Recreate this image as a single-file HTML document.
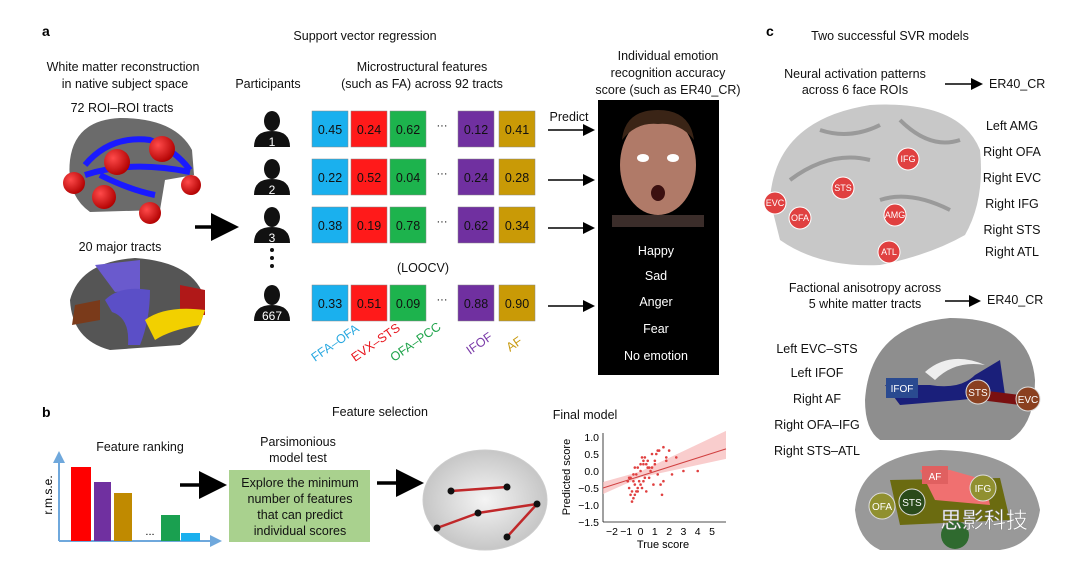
<!DOCTYPE html>
<html><head><meta charset="utf-8">
<style>
html,body{margin:0;padding:0;background:#fff;}
svg{display:block;font-family:"Liberation Sans","Noto Sans CJK SC",sans-serif;}
</style></head>
<body>
<svg id="fig" width="1080" height="570" viewBox="0 0 1080 570">
<defs>
<marker id="ah" markerWidth="8" markerHeight="8" refX="6" refY="4" orient="auto"><path d="M0,0 L8,4 L0,8 z" fill="#000"/></marker>
<marker id="ahb" markerWidth="6" markerHeight="6" refX="4" refY="3" orient="auto"><path d="M0,0 L6,3 L0,6 z" fill="#6fa8dc"/></marker>
<radialGradient id="rb" cx="0.35" cy="0.35" r="0.7"><stop offset="0" stop-color="#ff4a4a"/><stop offset="1" stop-color="#b00000"/></radialGradient>
<radialGradient id="gb" cx="0.5" cy="0.5" r="0.6"><stop offset="0" stop-color="#f4f4f4"/><stop offset="1" stop-color="#bdbdbd"/></radialGradient>
</defs>

<!-- panel labels -->
<text x="42" y="36" font-size="14" font-weight="bold">a</text>
<text x="42" y="417" font-size="14" font-weight="bold">b</text>
<text x="766" y="36" font-size="14" font-weight="bold">c</text>

<!-- panel a text -->
<g font-size="12.5" fill="#111" text-anchor="middle">
<text x="365" y="40">Support vector regression</text>
<text x="123" y="71">White matter reconstruction</text>
<text x="125" y="88">in native subject space</text>
<text x="122" y="112">72 ROI–ROI tracts</text>
<text x="120" y="251">20 major tracts</text>
<text x="268" y="88">Participants</text>
<text x="422" y="71">Microstructural features</text>
<text x="422" y="88">(such as FA) across 92 tracts</text>
<text x="668" y="60">Individual emotion</text>
<text x="668" y="77">recognition accuracy</text>
<text x="668" y="94">score (such as ER40_CR)</text>
<text x="569" y="121">Predict</text>
<text x="423" y="272">(LOOCV)</text>
</g>

<!-- brain 1 -->
<g>
<path d="M70,160 Q75,120 120,118 Q175,118 192,150 L194,175 L165,180 L160,210 L90,212 Q66,195 70,160z" fill="#6b6b6b"/>
<path d="M85,165 Q110,135 150,140 Q175,150 190,170 M85,175 Q130,160 190,172 M100,175 Q130,190 155,195" stroke="#1a1aff" stroke-width="6" fill="none"/>
<circle cx="162" cy="149" r="13" fill="url(#rb)"/><circle cx="117" cy="162" r="13" fill="url(#rb)"/>
<circle cx="74" cy="183" r="11" fill="url(#rb)"/><circle cx="104" cy="197" r="12" fill="url(#rb)"/>
<circle cx="150" cy="213" r="11" fill="url(#rb)"/><circle cx="191" cy="185" r="10" fill="url(#rb)"/>
</g>
<!-- brain 2 -->
<g>
<path d="M70,300 Q80,262 135,258 Q195,262 205,300 Q205,330 180,345 L110,350 Q72,340 70,300z" fill="#555"/>
<path d="M95,265 L140,260 L140,290 L115,292z" fill="#6a5acd"/>
<path d="M105,300 Q120,285 150,290 Q150,320 140,345 L128,345 Q130,318 112,312z" fill="#5b4fc7"/>
<path d="M75,305 L100,300 L100,320 L72,325z" fill="#7a3a1a"/>
<path d="M180,285 L205,290 L205,315 L180,315z" fill="#b01818"/>
<path d="M145,320 Q165,305 205,310 L200,325 Q170,330 155,340z" fill="#f2d000"/>
</g>

<line x1="195" y1="227" x2="232" y2="227" stroke="#000" stroke-width="3.5" marker-end="url(#ah)"/>

<g id="people"></g>
<g id="matrix"></g>

<g font-size="12.5">
<text x="315" y="362" fill="#29a8e0" transform="rotate(-35 315 362)">FFA–OFA</text>
<text x="355" y="362" fill="#e8141c" transform="rotate(-35 355 362)">EVX–STS</text>
<text x="394" y="362" fill="#1ea34a" transform="rotate(-35 394 362)">OFA–PCC</text>
<text x="470" y="355" fill="#7a3aa8" transform="rotate(-35 470 355)">IFOF</text>
<text x="510" y="352" fill="#c89a10" transform="rotate(-35 510 352)">AF</text>
</g>

<!-- predict arrows -->
<g stroke="#000" stroke-width="1.5" marker-end="url(#ah)">
<line x1="548" y1="130" x2="592" y2="130"/><line x1="548" y1="180" x2="592" y2="180"/>
<line x1="548" y1="228" x2="592" y2="228"/><line x1="548" y1="306" x2="592" y2="306"/>
</g>

<!-- face panel -->
<g>
<rect x="598" y="100" width="121" height="275" fill="#000"/>
<ellipse cx="658" cy="165" rx="38" ry="50" fill="#b07a68"/>
<path d="M622,140 Q625,110 658,110 Q690,110 694,140 Q680,122 658,124 Q636,122 622,140z" fill="#3a2416"/>
<ellipse cx="643" cy="158" rx="6" ry="4" fill="#fff"/><ellipse cx="673" cy="158" rx="6" ry="4" fill="#fff"/>
<ellipse cx="658" cy="193" rx="7" ry="8" fill="#3b1010"/>
<rect x="612" y="215" width="92" height="12" fill="#3b2d2a"/>
<g fill="#fff" font-size="12.5" text-anchor="middle">
<text x="656" y="255">Happy</text>
<text x="656" y="280">Sad</text>
<text x="656" y="306">Anger</text>
<text x="656" y="333">Fear</text>
<text x="656" y="360">No emotion</text>
</g>
</g>

<!-- panel b -->
<g font-size="12.5" fill="#111" text-anchor="middle">
<text x="380" y="416">Feature selection</text>
<text x="140" y="451">Feature ranking</text>
<text x="298" y="446">Parsimonious</text>
<text x="298" y="462">model test</text>
<text x="585" y="419">Final model</text>
</g>
<g id="rank">
<line x1="59" y1="541" x2="59" y2="455" stroke="#6fa8dc" stroke-width="2" marker-end="url(#ahb)"/>
<line x1="59" y1="541" x2="218" y2="541" stroke="#6fa8dc" stroke-width="2" marker-end="url(#ahb)"/>
<text x="52" y="495" font-size="12" text-anchor="middle" transform="rotate(-90 52 495)">r.m.s.e.</text>
<text x="150" y="535" font-size="11" text-anchor="middle">...</text>
</g>
<rect x="229" y="470" width="141" height="72" fill="#a9d18e"/>
<g font-size="12.5" text-anchor="middle" fill="#111">
<text x="300" y="487">Explore the minimum</text>
<text x="300" y="503">number of features</text>
<text x="300" y="519">that can predict</text>
<text x="300" y="535">individual scores</text>
</g>
<line x1="180" y1="485" x2="220" y2="485" stroke="#000" stroke-width="3.5" marker-end="url(#ah)"/>
<line x1="377" y1="483" x2="417" y2="483" stroke="#000" stroke-width="3.5" marker-end="url(#ah)"/>
<g>
<ellipse cx="485" cy="500" rx="62" ry="50" fill="url(#gb)" stroke="#ccc"/>
<g stroke="#c0282a" stroke-width="2.5"><line x1="451" y1="491" x2="507" y2="487"/><line x1="478" y1="513" x2="537" y2="504"/><line x1="437" y1="528" x2="478" y2="513"/><line x1="507" y1="537" x2="537" y2="504"/></g>
<g fill="#111"><circle cx="451" cy="491" r="3.5"/><circle cx="507" cy="487" r="3.5"/><circle cx="478" cy="513" r="3.5"/><circle cx="537" cy="504" r="3.5"/><circle cx="437" cy="528" r="3.5"/><circle cx="507" cy="537" r="3.5"/></g>
</g>
<g id="scatter"></g>

<!-- panel c -->
<g font-size="12.5" fill="#111">
<text x="890" y="40" text-anchor="middle">Two successful SVR models</text>
<text x="855" y="78" text-anchor="middle">Neural activation patterns</text>
<text x="855" y="94" text-anchor="middle">across 6 face ROIs</text>
<text x="989" y="88">ER40_CR</text>
<text x="1012" y="130" text-anchor="middle">Left AMG</text>
<text x="1012" y="156" text-anchor="middle">Right OFA</text>
<text x="1012" y="182" text-anchor="middle">Right EVC</text>
<text x="1012" y="208" text-anchor="middle">Right IFG</text>
<text x="1012" y="234" text-anchor="middle">Right STS</text>
<text x="1012" y="256" text-anchor="middle">Right ATL</text>
<text x="865" y="292" text-anchor="middle">Factional anisotropy across</text>
<text x="865" y="308" text-anchor="middle">5 white matter tracts</text>
<text x="987" y="304">ER40_CR</text>
<text x="817" y="353" text-anchor="middle">Left EVC–STS</text>
<text x="817" y="377" text-anchor="middle">Left IFOF</text>
<text x="817" y="403" text-anchor="middle">Right AF</text>
<text x="817" y="429" text-anchor="middle">Right OFA–IFG</text>
<text x="817" y="455" text-anchor="middle">Right STS–ATL</text>
</g>
<line x1="945" y1="84" x2="980" y2="84" stroke="#000" stroke-width="1.5" marker-end="url(#ah)"/>
<line x1="945" y1="301" x2="978" y2="301" stroke="#000" stroke-width="1.5" marker-end="url(#ah)"/>
<g>
<path d="M770,200 Q775,120 870,105 Q960,100 980,150 Q985,200 965,235 Q930,255 880,265 Q820,268 780,240z" fill="#c8c8c8"/>
<path d="M790,180 Q830,150 870,160 M820,130 Q850,140 880,125 M900,120 Q930,150 960,140 M880,200 Q910,190 950,210" stroke="#9a9a9a" stroke-width="4" fill="none"/>
<g fill="#e04040" stroke="#fff" stroke-width="1" font-size="9" text-anchor="middle">
<circle cx="775" cy="203" r="11"/><circle cx="800" cy="218" r="11"/><circle cx="843" cy="188" r="11"/><circle cx="908" cy="159" r="11"/><circle cx="895" cy="215" r="11"/><circle cx="889" cy="252" r="11"/>
</g>
<g fill="#fff" font-size="9" text-anchor="middle"><text x="775" y="206">EVC</text><text x="800" y="221">OFA</text><text x="843" y="191">STS</text><text x="908" y="162">IFG</text><text x="895" y="218">AMG</text><text x="889" y="255">ATL</text></g>
</g>
<g>
<path d="M865,400 Q870,325 950,318 Q1030,318 1035,380 Q1035,425 1010,440 L880,440 Q865,430 865,400z" fill="#8e8e8e"/>
<path d="M925,372 Q950,350 985,365 Q955,360 935,380z" fill="#eee"/>
<path d="M885,385 L930,385 Q960,390 975,375 L1000,360 L1005,395 L960,400 L900,405z" fill="#1a1f7a"/>
<rect x="886" y="378" width="32" height="20" fill="#2a4a90"/><text x="902" y="392" fill="#fff" font-size="10" text-anchor="middle">IFOF</text>
<path d="M980,390 L1020,395 L1020,405 L980,400z" fill="#7a1010"/>
<circle cx="978" cy="392" r="12" fill="#8a4020" stroke="#ddd"/><text x="978" y="396" fill="#fff" font-size="10" text-anchor="middle">STS</text>
<circle cx="1028" cy="399" r="12" fill="#8a4020" stroke="#ddd"/><text x="1028" y="403" fill="#fff" font-size="10" text-anchor="middle">EVC</text>
<path d="M855,510 Q860,455 940,450 Q1030,452 1040,510 Q1035,545 1000,550 L880,550 Q858,540 855,510z" fill="#999"/>
<path d="M890,480 L1000,478 L1010,520 L900,525z" fill="#6b6b10"/>
<path d="M920,470 L950,470 L985,480 L990,505 L935,500z" fill="#f07070"/>
<rect x="922" y="466" width="26" height="18" fill="#e06060"/><text x="935" y="480" fill="#fff" font-size="10" text-anchor="middle">AF</text>
<circle cx="983" cy="488" r="13" fill="#909030" stroke="#ddd"/><text x="983" y="492" fill="#fff" font-size="10" text-anchor="middle">IFG</text>
<circle cx="882" cy="506" r="13" fill="#909030" stroke="#ddd"/><text x="882" y="510" fill="#fff" font-size="10" text-anchor="middle">OFA</text>
<circle cx="912" cy="502" r="13" fill="#2a4a1a" stroke="#ddd"/><text x="912" y="506" fill="#fff" font-size="10" text-anchor="middle">STS</text>
<circle cx="955" cy="535" r="14" fill="#2f6a2f"/>
<text x="940" y="528" fill="#fff" font-size="22" stroke="#888" stroke-width="0.5">思影科技</text>
</g>
</svg>
<script>
var NS="http://www.w3.org/2000/svg";
function mk(p,t,a){var e=document.createElementNS(NS,t);for(var k in a)e.setAttribute(k,a[k]);p.appendChild(e);return e;}

// participants
var participantIds=["1","2","3","667"];
var rowTops=[111,159,207,285];
var peopleG=document.getElementById('people');
participantIds.forEach(function(id,i){
  var y=rowTops[i];
  var g=mk(peopleG,'g',{});
  
  
  mk(g,'ellipse',{cx:272,cy:y+10,rx:8,ry:10,fill:'#111'});
  mk(g,'path',{d:'M254,'+(y+36)+' Q254,'+(y+20)+' 272,'+(y+20)+' Q290,'+(y+20)+' 290,'+(y+36)+'z',fill:'#111'});
  var t=mk(g,'text',{x:272,y:y+35,fill:'#fff','font-size':12,'text-anchor':'middle'});t.textContent=id;
});
var vd=mk(peopleG,'g',{fill:'#111'});
[250,258,266].forEach(function(cy){mk(vd,'circle',{cx:272,cy:cy,r:2});});

// feature matrix
var featureColors=['#1ab0ee','#ff1a1a','#1db34d','#7030a0','#c99a06'];
var featureX=[312,351,390,458,499];
var values=[["0.45","0.24","0.62","0.12","0.41"],["0.22","0.52","0.04","0.24","0.28"],["0.38","0.19","0.78","0.62","0.34"],["0.33","0.51","0.09","0.88","0.90"]];
var mG=document.getElementById('matrix');
values.forEach(function(row,r){
  row.forEach(function(v,c){
    var rc=mk(mG,'rect',{x:featureX[c],y:rowTops[r],width:36,height:36,fill:featureColors[c],stroke:'#888','stroke-width':0.5});
    
    
    var t=mk(mG,'text',{x:featureX[c]+18,y:rowTops[r]+23,'font-size':12.5,'text-anchor':'middle',fill:'#111'});t.textContent=v;
  });
  var d=mk(mG,'text',{x:442,y:rowTops[r]+18,'font-size':11,'text-anchor':'middle'});d.textContent='···';
});

// ranking bars
var rankValues=[74,59,48,26,8];
var rankColors=['#ff0000','#7030a0','#c08a00','#1aa050','#1ab0ee'];
var rankX=[71,94,114,161,181];
var rankW=[20,17,18,19,19];
var rG=document.getElementById('rank');
rankValues.forEach(function(v,i){
  var b=mk(rG,'rect',{x:rankX[i],y:541-v,width:rankW[i],height:v,fill:rankColors[i]});
  
  
});

// scatter
var xTicks=[-2,-1,0,1,2,3,4,5];
var yTicks=[1.0,0.5,0.0,-0.5,-1.0,-1.5];
var yTickLabels=["1.0","0.5","0.0","−0.5","−1.0","−1.5"];
var trueScores=[-0.9,-0.8,-0.7,-0.6,-0.5,-0.4,-0.3,-0.2,-0.1,0,0.1,0.2,0.3,0.4,0.5,0.6,0.8,1.0,1.2,1.4,1.6,1.8,2.0,2.2,2.5,3.0,4.0,-0.6,-0.4,-0.2,0,0.2,0.4,0.6,0.9,1.1,1.3,1.5,-0.8,-0.5,-0.3,0.1,0.3,0.7,1.0,1.6,-0.7,-0.4,0.0,0.5,1.2,1.8,-0.5,-0.2,0.2,0.8];
var predScores=[-0.3,-0.5,-0.2,-0.6,-0.8,-0.4,-0.1,0.1,-0.3,0.2,-0.5,0.3,0.4,-0.6,0.1,-0.2,0.5,0.3,0.6,-0.4,0.7,0.3,0.6,-0.1,0.4,0.0,0.0,-0.9,-0.7,-0.5,0.0,-0.3,0.2,0.1,-0.4,0.5,0.6,-0.7,-0.2,-0.1,-0.6,0.4,-0.2,0.0,0.2,-0.3,-0.7,0.1,-0.4,0.3,-0.1,0.4,-0.3,-0.6,0.2,0.1];
var fitLine=[[-2.5,-0.5],[5.7,0.65]];
var sG=document.getElementById('scatter');
var L=603,R=726,T=433,B=522;
function sx(v){return 612+(v+2)*(100/7);}
function sy(v){return 437+(1.0-v)*(85/2.5);}
mk(sG,'line',{x1:L,y1:T,x2:L,y2:B,stroke:'#111','stroke-width':0.8});
mk(sG,'line',{x1:L,y1:B,x2:R,y2:B,stroke:'#111','stroke-width':0.8});
xTicks.forEach(function(v){var t=mk(sG,'text',{x:sx(v),y:B+13,'font-size':10.5,'text-anchor':'middle'});t.textContent=(v<0?'−':'')+Math.abs(v);});
yTicks.forEach(function(v,i){var t=mk(sG,'text',{x:L-4,y:sy(v)+4,'font-size':10.5,'text-anchor':'end'});t.textContent=yTickLabels[i];});
var xl=mk(sG,'text',{x:663,y:548,'font-size':11,'text-anchor':'middle'});xl.textContent='True score';
var yl=mk(sG,'text',{x:570,y:477,'font-size':11,'text-anchor':'middle',transform:'rotate(-90 570 477)'});yl.textContent='Predicted score';
var x0=fitLine[0][0],y0=fitLine[0][1],x1=fitLine[1][0],y1=fitLine[1][1];
mk(sG,'path',{d:'M'+L+','+(sy(y0)-6)+' L'+sx(0)+','+(sy(-0.1)-3)+' L'+R+','+(sy(y1)-18)+' L'+R+','+(sy(y1)+10)+' L'+sx(0)+','+(sy(-0.1)+3)+' L'+L+','+(sy(y0)+6)+'z',fill:'#f6b8b8',opacity:0.7});
var ln=mk(sG,'line',{x1:L,y1:sy(y0),x2:R,y2:sy(y1),stroke:'#d04040','stroke-width':1});


trueScores.forEach(function(v,i){
  var c=mk(sG,'circle',{cx:sx(v),cy:sy(predScores[i]),r:1.3,fill:'#e04040'});
  
  
});
</script>
</body></html>
